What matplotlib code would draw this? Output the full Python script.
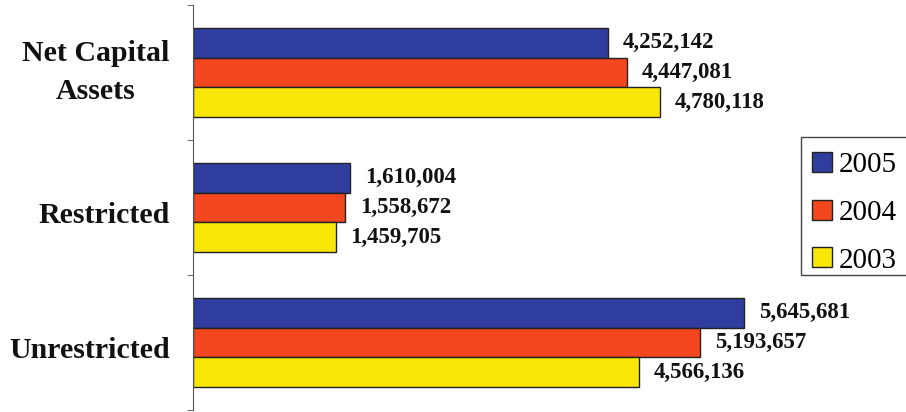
import matplotlib.pyplot as plt
from matplotlib.patches import Rectangle
import numpy as np

categories = ['Net Capital\nAssets', 'Restricted', 'Unrestricted']
years = ['2005', '2004', '2003']
vals_2005 = [4252142, 1610004, 5645681]
vals_2004 = [4447081, 1558672, 5193657]
vals_2003 = [4780118, 1459705, 4566136]
colors = ['#2f3d9e', '#f4461f', '#f7e608']

series = [vals_2005, vals_2004, vals_2003]

fig = plt.figure(figsize=(9.06, 4.12), dpi=100)
ax = fig.add_axes([193/906, 2/412, 1 - 193/906, 405/412])

y = np.arange(len(categories))
h = 0.22
offs = [-h, 0, h]
for s, lab, c, o in zip(series, years, colors, offs):
    bars = ax.barh(y + o, s, height=h, color=c, edgecolor='#222222', linewidth=1.0, label=lab)
    for b, v in zip(bars, s):
        ax.text(v + 150000, b.get_y() + h/2, f'{v:,}', va='center', ha='left',
                fontsize=16.5, fontweight='bold', family='Liberation Serif', color='#111111')

ax.set_xlim(0, 7300000)
ax.set_ylim(2.5, -0.5)
ax.set_xticks([])
ax.set_yticks(y)
ax.set_yticklabels([])
# category labels, single-line ones sit a little low in the original
for yi, cat in zip(y, categories):
    dy = 0 if '\n' in cat else -5.5
    ax.annotate(cat, xy=(0, yi), xytext=(-17, dy), textcoords='offset points',
                ha='right', va='center', multialignment='center', linespacing=1.5,
                fontsize=21.5, fontweight='bold', family='Liberation Serif', color='#111111',
                annotation_clip=False)
ax.set_yticks([-0.5, 0.5, 1.5, 2.5], minor=True)
ax.tick_params(axis='y', which='major', length=0)
ax.tick_params(axis='y', which='minor', length=4, color='#555555', direction='out')
for sp in ['top', 'right', 'bottom']:
    ax.spines[sp].set_visible(False)
ax.spines['left'].set_color('#555555')

# legend box runs off the right edge in the original
fig.patches.append(Rectangle((801/906, 1 - 275/412), 120/906, 138/412, transform=fig.transFigure,
                             facecolor='white', edgecolor='#444444', linewidth=1.0, zorder=2))
leg = fig.legend(loc='upper left', bbox_to_anchor=(803/906, 1 - 143/412),
                 prop={'family': 'Liberation Serif', 'size': 21},
                 handlelength=0.68, handleheight=0.68, handletextpad=0.25,
                 labelspacing=0.74, borderpad=0.3, borderaxespad=0, frameon=False)
leg.set_zorder(3)

fig.savefig('out.png', dpi=100)
